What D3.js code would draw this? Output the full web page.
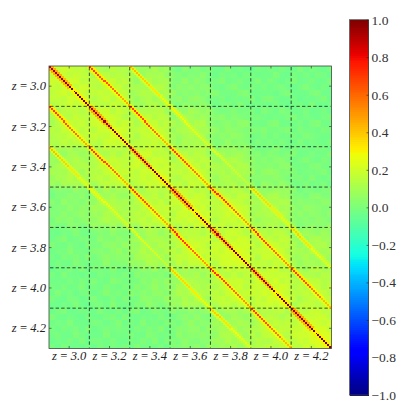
<!DOCTYPE html>
<html>
<head>
<meta charset="utf-8">
<script src="https://cdn.jsdelivr.net/npm/d3@7"></script>
<style>
html, body { margin: 0; padding: 0; background: #fff; }
svg { display: block; }
.tick line { stroke: #222; stroke-width: 0.6; }
</style>
</head>
<body>
<svg id="chart" width="415" height="415"></svg>
<script>
var zLabels = ["z = 3.0", "z = 3.2", "z = 3.4", "z = 3.6", "z = 3.8", "z = 4.0", "z = 4.2"];
var barTicks = [1, 0.8, 0.6, 0.4, 0.2, 0, -0.2, -0.4, -0.6, -0.8, -1];
var cellsPerBlock = 20;

// background level, lower triangle, one value per quarter of a redshift block
var background = [
  [.20],
  [.19,.21],
  [.17,.19,.21],
  [.15,.18,.20,.21],
  [.11,.14,.15,.13,.20],
  [.13,.17,.18,.16,.19,.21],
  [.14,.17,.18,.17,.17,.19,.20],
  [.13,.16,.17,.16,.15,.18,.20,.21],
  [.06,.08,.09,.08,.10,.13,.14,.13,.20],
  [.08,.11,.12,.11,.13,.17,.18,.16,.19,.21],
  [.09,.12,.13,.11,.14,.17,.19,.17,.17,.19,.21],
  [.09,.11,.12,.10,.13,.16,.17,.17,.15,.18,.20,.21],
  [-.01,.01,.02,.01,.03,.08,.09,.08,.09,.13,.14,.13,.19],
  [.01,.03,.04,.03,.08,.11,.12,.10,.13,.16,.18,.16,.18,.21],
  [.01,.03,.04,.03,.08,.11,.12,.11,.14,.17,.18,.17,.17,.20,.21],
  [.00,.02,.03,.02,.07,.10,.11,.10,.13,.16,.17,.16,.15,.18,.20,.21],
  [-.03,-.02,-.01,-.02,-.01,.01,.02,.01,.03,.09,.10,.08,.11,.14,.15,.14,.19],
  [-.02,-.01,-.01,-.02,.00,.03,.04,.03,.08,.11,.12,.11,.14,.18,.19,.17,.18,.21],
  [-.02,-.01,.00,-.01,.00,.03,.04,.03,.08,.12,.13,.11,.15,.18,.20,.18,.18,.21,.22],
  [-.03,-.02,-.01,-.02,.00,.02,.03,.02,.07,.10,.11,.10,.14,.17,.18,.18,.16,.20,.22,.22],
  [-.03,-.02,-.02,-.03,-.03,-.02,-.01,-.02,-.01,.02,.03,.01,.04,.09,.10,.08,.11,.15,.16,.14,.19],
  [-.02,-.02,-.01,-.02,-.02,-.01,-.01,-.01,.00,.03,.04,.03,.08,.12,.13,.11,.14,.18,.19,.17,.18,.21],
  [-.02,-.02,-.02,-.03,-.02,-.01,.00,-.01,.00,.03,.04,.03,.09,.12,.13,.11,.15,.18,.20,.18,.18,.21,.22],
  [-.03,-.03,-.02,-.03,-.02,-.02,-.01,-.02,.00,.02,.03,.02,.08,.11,.12,.10,.14,.17,.18,.17,.16,.19,.21,.22],
  [-.03,-.03,-.03,-.04,-.03,-.02,-.02,-.03,-.02,-.02,-.01,-.02,-.01,.02,.02,.01,.03,.08,.08,.07,.10,.13,.13,.12,.18],
  [-.02,-.02,-.02,-.03,-.02,-.02,-.01,-.02,-.02,-.01,.00,-.01,.00,.03,.04,.03,.07,.10,.11,.09,.12,.16,.17,.15,.18,.21],
  [-.02,-.03,-.02,-.03,-.03,-.02,-.01,-.02,-.02,-.01,-.01,-.01,.00,.04,.04,.03,.07,.11,.12,.10,.13,.17,.18,.16,.18,.21,.23],
  [-.03,-.03,-.03,-.03,-.03,-.02,-.02,-.02,-.02,-.01,-.01,-.02,.00,.03,.03,.02,.07,.10,.11,.09,.12,.15,.16,.15,.16,.20,.22,.23]
];

// small scale speckle seen on top of the background, in hundredths
var speckle = [
  [ 1,-2, 2, 0,-1, 3,-2, 1, 0,-3, 2,-1],
  [-1, 3,-1,-2, 2, 0, 1,-3, 2, 1,-2, 0],
  [ 2, 0,-3, 1, 3,-2,-1, 2,-1, 0, 3,-2],
  [-2, 1, 2,-1,-3, 1, 3, 0,-2, 2,-1, 1],
  [ 0,-3, 1, 3, 0,-1,-2, 2, 3,-1, 0,-2],
  [ 3, 1,-2, 0, 2,-3, 0,-1, 1, 3,-2, 2],
  [-1, 2, 0,-3, 1, 2,-2, 3,-1,-2, 1, 0],
  [ 1,-2, 3, 1,-1, 0, 2,-3, 0, 2,-3, 3],
  [-3, 0,-1, 2, 3,-2, 1, 0,-2, 1, 2,-1],
  [ 2, 3,-2,-1, 0, 1,-3, 2, 3,-1, 0,-2],
  [ 0,-1, 1, 3,-2, 2, 0,-1,-3, 2, 1, 3],
  [-2, 1,-3, 0, 2,-1, 3, 1, 0,-2,-1, 2]
];
var speckleCells = 3;

// diagonal bands, one value per quarter block along the band
var lag0 = [.92,.94,1,1, .92,.94,1,1, .92,.94,1,1, .92,.94,1,1, .92,.94,1,1, .92,.94,1,1, .92,.94,1,1];
var lag1 = [.45,.42,.3,.3, .45,.42,.3,.3, .45,.42,.3,.3, .45,.42,.3,.3, .45,.42,.3,.3, .45,.42,.3,.3, .45,.42,.3,.3];
var lag20 = [.68,.64,.58,.46, .68,.66,.58,.44, .68,.64,.56,.46, .72,.68,.58,.48, .7,.66,.58,.5, .68,.64,.56,.42];
var lag20Side = [.31,.3,.27,.24, .31,.3,.27,.23, .31,.3,.27,.24, .33,.31,.27,.24, .31,.3,.27,.25, .31,.3,.27,.23];
var lag40 = [.42,.38,.33,.26, .3,.28,.25,.22, .25,.23,.21,.18, .38,.36,.32,.26, .38,.34,.28,.24];
var lag40Side = [.22,.21,.2,.17, .18,.17,.16,.15, .13,.13,.12,.11, .21,.2,.19,.17, .21,.2,.18,.16];

var margin = {left: 49, top: 66};
var plotSize = 282.5;
var barBox = {x: 349.5, y: 19.7, w: 19, h: 375.3};

// the matlab style colour table
var jetR = d3.scaleLinear().domain([0, .35, .66, .89, 1]).range([0, 0, 1, 1, .5]).clamp(true);
var jetG = d3.scaleLinear().domain([0, .125, .375, .64, .91, 1]).range([0, 0, 1, 1, 0, 0]).clamp(true);
var jetB = d3.scaleLinear().domain([0, .11, .34, .65, 1]).range([.5, 1, 1, 0, 0]).clamp(true);
var norm = d3.scaleLinear().domain([-1, 1]).range([0, 1]);
function color(v) {
  var t = norm(v);
  return d3.rgb(jetR(t) * 255, jetG(t) * 255, jetB(t) * 255).formatRgb();
}

var nCells = zLabels.length * cellsPerBlock;
var quarter = cellsPerBlock / 4;

function bgValue(r, c) {
  return background[Math.max(r, c)][Math.min(r, c)];
}

// cells that belong to a band, both sides of the diagonal
var bandCells = [];
d3.range(nCells).forEach(function(r) {
  d3.range(nCells).forEach(function(c) {
    var lo = Math.min(r, c), lag = Math.abs(r - c);
    var q = Math.floor(lo / quarter);
    var bg = bgValue(Math.floor(r / quarter), Math.floor(c / quarter));
    var v = null;
    if (lag == 0) v = lag0[q];
    else if (lag == 1) v = Math.max(bg, lag1[q]);
    else if (lag == 20) v = lag20[q];
    else if (lag == 19 || lag == 21) { if (q < lag20Side.length) v = Math.max(bg, lag20Side[q]); }
    else if (lag == 40) v = lag40[q];
    else if (lag == 39 || lag == 41) { if (q < lag40Side.length) v = Math.max(bg, lag40Side[q]); }
    if (v !== null) bandCells.push({r: r, c: c, v: v, lag: lag});
  });
});

var coarse = [];
d3.range(nCells / quarter).forEach(function(r) {
  d3.range(nCells / quarter).forEach(function(c) {
    coarse.push({r: r, c: c, v: bgValue(r, c)});
  });
});

var specks = [];
d3.range(0, nCells, speckleCells).forEach(function(r, i) {
  d3.range(0, nCells, speckleCells).forEach(function(c, j) {
    specks.push({r: r, c: c, m: speckle[Math.min(i, j) % 12][Math.max(i, j) % 12]});
  });
});

var svg = d3.select("#chart");
var defs = svg.append("defs");

function addBlur(id, dev) {
  defs.append("filter")
      .attr("id", id)
      .attr("x", "-5%").attr("y", "-5%").attr("width", "110%").attr("height", "110%")
    .append("feGaussianBlur")
      .attr("stdDeviation", dev);
}
addBlur("wide", 3);
addBlur("soft", 0.4);
addBlur("softer", 0.75);

defs.append("clipPath").attr("id", "plotClip")
  .append("rect")
    .attr("x", margin.left).attr("y", margin.top)
    .attr("width", plotSize).attr("height", plotSize);

var xCell = d3.scaleBand().domain(d3.range(nCells)).range([margin.left, margin.left + plotSize]);
var yCell = d3.scaleBand().domain(d3.range(nCells)).range([margin.top, margin.top + plotSize]);
var xCoarse = d3.scaleBand().domain(d3.range(nCells / quarter)).range([margin.left, margin.left + plotSize]);
var yCoarse = d3.scaleBand().domain(d3.range(nCells / quarter)).range([margin.top, margin.top + plotSize]);
var xBlock = d3.scaleBand().domain(zLabels).range([margin.left, margin.left + plotSize]);
var yBlock = d3.scaleBand().domain(zLabels).range([margin.top, margin.top + plotSize]);

var matrix = svg.append("g").attr("clip-path", "url(#plotClip)");

// background, outer cells run past the frame so the blur does not fade at the edge
var last = nCells / quarter - 1;
matrix.append("g")
    .attr("filter", "url(#wide)")
  .selectAll("rect")
    .data(coarse)
  .enter().append("rect")
    .attr("x", function(d) { return xCoarse(d.c) - (d.c == 0 ? 10 : 0); })
    .attr("y", function(d) { return yCoarse(d.r) - (d.r == 0 ? 10 : 0); })
    .attr("width", function(d) { return xCoarse.bandwidth() + 0.5 + (d.c == 0 || d.c == last ? 10 : 0); })
    .attr("height", function(d) { return yCoarse.bandwidth() + 0.5 + (d.r == 0 || d.r == last ? 10 : 0); })
    .style("fill", function(d) { return color(d.v); });

matrix.append("g")
    .attr("filter", "url(#soft)")
    .attr("shape-rendering", "crispEdges")
  .selectAll("rect")
    .data(specks)
  .enter().append("rect")
    .attr("x", function(d) { return xCell(d.c); })
    .attr("y", function(d) { return yCell(d.r); })
    .attr("width", xCell.bandwidth() * speckleCells)
    .attr("height", yCell.bandwidth() * speckleCells)
    .style("fill", function(d) { return color(d.m > 0 ? 0.3 : -0.12); })
    .style("fill-opacity", function(d) { return Math.abs(d.m) * 0.035; });

// the first part of each block on the main diagonal looks smeared in the original
function isSmeared(d) {
  return d.lag <= 1 && (Math.min(d.r, d.c) % cellsPerBlock) < cellsPerBlock * 0.6;
}

function drawCells(rows, filterId) {
  matrix.append("g")
      .attr("filter", "url(#" + filterId + ")")
      .attr("shape-rendering", "crispEdges")
    .selectAll("rect")
      .data(rows)
    .enter().append("rect")
      .attr("x", function(d) { return xCell(d.c); })
      .attr("y", function(d) { return yCell(d.r); })
      .attr("width", xCell.bandwidth() + 0.5)
      .attr("height", yCell.bandwidth() + 0.5)
      .style("fill", function(d) { return color(d.v); });
}
drawCells(bandCells.filter(function(d) { return !isSmeared(d); }), "soft");
drawCells(bandCells.filter(isSmeared), "softer");

// dashed block separators
var splits = zLabels.slice(1);
svg.append("g").selectAll("line")
    .data(splits)
  .enter().append("line")
    .attr("x1", function(d) { return xBlock(d); })
    .attr("x2", function(d) { return xBlock(d); })
    .attr("y1", margin.top + 1)
    .attr("y2", margin.top + plotSize - 1)
    .attr("stroke", "#111")
    .attr("stroke-opacity", 0.75)
    .attr("stroke-dasharray", "3.4,2.2");
svg.append("g").selectAll("line")
    .data(splits)
  .enter().append("line")
    .attr("x1", margin.left + 1)
    .attr("x2", margin.left + plotSize - 1)
    .attr("y1", function(d) { return yBlock(d); })
    .attr("y2", function(d) { return yBlock(d); })
    .attr("stroke", "#111")
    .attr("stroke-opacity", 0.75)
    .attr("stroke-dasharray", "3.4,2.2");

// axis labels get their font set directly, the axis puts its own on the group
function zFont(g) {
  g.select(".domain").remove();
  g.selectAll("text")
      .style("font-family", "'Liberation Serif', serif")
      .style("font-style", "italic")
      .style("font-size", "12.5px")
      .style("word-spacing", "-0.5px")
      .style("fill", "#222");
}

// axes, ticks point inward like the original
svg.append("g")
    .attr("transform", "translate(" + margin.left + ",0)")
    .call(d3.axisLeft(yBlock).tickSize(-2.5).tickPadding(3))
    .call(zFont);
svg.append("g")
    .attr("transform", "translate(0," + (margin.top + plotSize) + ")")
    .call(d3.axisBottom(xBlock).tickSize(-2.5).tickPadding(3))
    .call(zFont);
svg.append("g")
    .attr("transform", "translate(" + (margin.left + plotSize) + ",0)")
    .call(d3.axisRight(yBlock).tickSize(-2.5).tickFormat(""))
    .call(zFont);
svg.append("g")
    .attr("transform", "translate(0," + margin.top + ")")
    .call(d3.axisTop(xBlock).tickSize(-2.5).tickFormat(""))
    .call(zFont);

svg.append("rect")
    .attr("x", margin.left).attr("y", margin.top)
    .attr("width", plotSize).attr("height", plotSize)
    .attr("fill", "none")
    .attr("stroke", "#444")
    .attr("stroke-width", 0.8);

// colour bar
var yBar = d3.scaleLinear().domain([-1, 1]).range([barBox.y + barBox.h, barBox.y]);
var barSteps = d3.range(-1, 1, 0.01);

svg.append("g")
    .attr("shape-rendering", "crispEdges")
  .selectAll("rect")
    .data(barSteps)
  .enter().append("rect")
    .attr("x", barBox.x)
    .attr("width", barBox.w)
    .attr("y", function(d) { return yBar(d + 0.01); })
    .attr("height", function(d) { return yBar(d) - yBar(d + 0.01) + 0.5; })
    .style("fill", function(d) { return color(d + 0.005); });

svg.append("rect")
    .attr("x", barBox.x).attr("y", barBox.y)
    .attr("width", barBox.w).attr("height", barBox.h)
    .attr("fill", "none")
    .attr("stroke", "#444")
    .attr("stroke-width", 0.8);

svg.append("g")
    .attr("transform", "translate(" + (barBox.x + barBox.w) + ",0)")
    .call(d3.axisRight(yBar).tickValues(barTicks).tickSize(-2).tickPadding(3)
      .tickFormat(function(d) { return d3.format(".1f")(d).replace("-", "\u2212"); }))
    .call(function(g) {
      g.select(".domain").remove();
      g.selectAll("text")
          .style("font-family", "'Liberation Serif', serif")
          .style("font-size", "13.5px")
          .style("fill", "#333");
    });
</script>
</body>
</html>
